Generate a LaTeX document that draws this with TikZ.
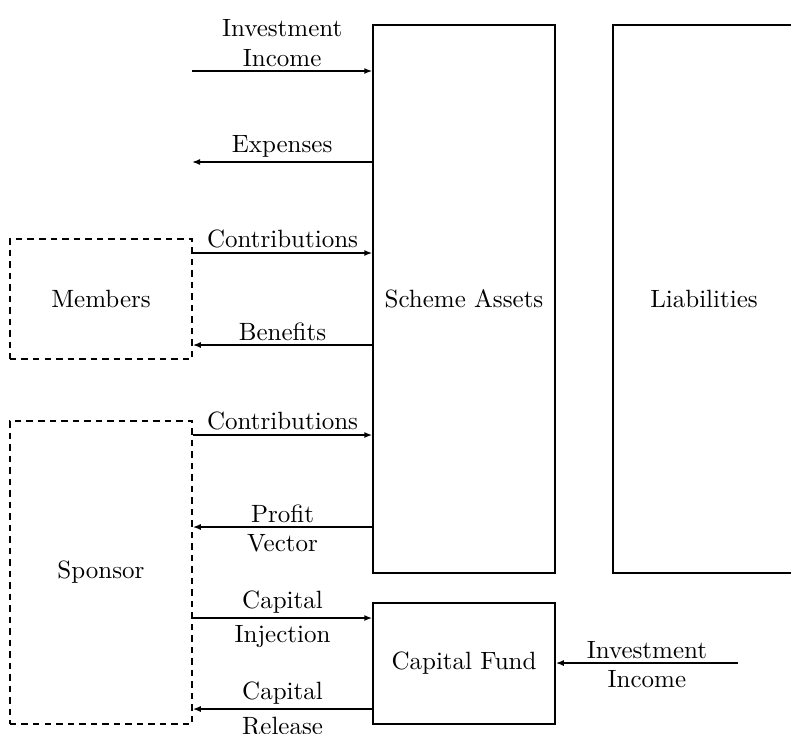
\documentclass[tikz,border=0pt]{standalone}
\usetikzlibrary{arrows.meta}

\begin{document}
\begin{tikzpicture}[
  x=0.4pt, y=-0.4pt,
  box/.style={draw,line width=0.6pt,minimum width=72.8pt,align=center},
  party/.style={box,dash pattern=on 2.6pt off 2pt},
  arr/.style={-{Latex[length=3.2pt,width=2.4pt]},line width=0.6pt},
  lbl/.style={inner sep=1.5pt,align=center},
  lblb/.style={lbl,below,inner sep=2.8pt}
]
\useasboundingbox (0,0) rectangle (791,733);

% scheme and the parties around it
\node[box, minimum height=219.2pt] (assets) at (464,299) {Scheme Assets};
\node[box, minimum height=219.2pt] (liab) at (704,299) {Liabilities};
\node[party, minimum height=48pt] (members) at (101,299) {Members};
\node[party, minimum height=121.2pt] (sponsor) at (101,572.5) {Sponsor};
\node[box, minimum height=48.4pt] (fund) at (464,663.5) {Capital Fund};

\coordinate (income) at (192,71);
\coordinate (expense) at (192,162);
\coordinate (fundinc) at (738,663);

% cash flows
\draw[arr] (income) -- node[lbl,above]{Investment\\Income} (assets.west |- income);
\draw[arr] (assets.west |- expense) -- node[lbl,above]{Expenses} (expense);
\draw[arr] (members.east |- 0,253) -- node[lbl,above]{Contributions} (assets.west |- 0,253);
\draw[arr] (assets.west |- 0,345) -- node[lbl,above]{Benefits} (members.east |- 0,345);
\draw[arr] (sponsor.east |- 0,435) -- node[lbl,above]{Contributions} (assets.west |- 0,435);
\draw[arr] (assets.west |- 0,527) -- node[lbl,above]{Profit} node[lblb]{Vector} (sponsor.east |- 0,527);
\draw[arr] (sponsor.east |- 0,618) -- node[lbl,above]{Capital} node[lblb]{Injection} (fund.west |- 0,618);
\draw[arr] (fund.west |- 0,709) -- node[lbl,above]{Capital} node[lblb]{Release} (sponsor.east |- 0,709);
\draw[arr] (fundinc) -- node[lbl,above]{Investment} node[lblb]{Income} (fund.east |- fundinc);
\end{tikzpicture}
\end{document}
